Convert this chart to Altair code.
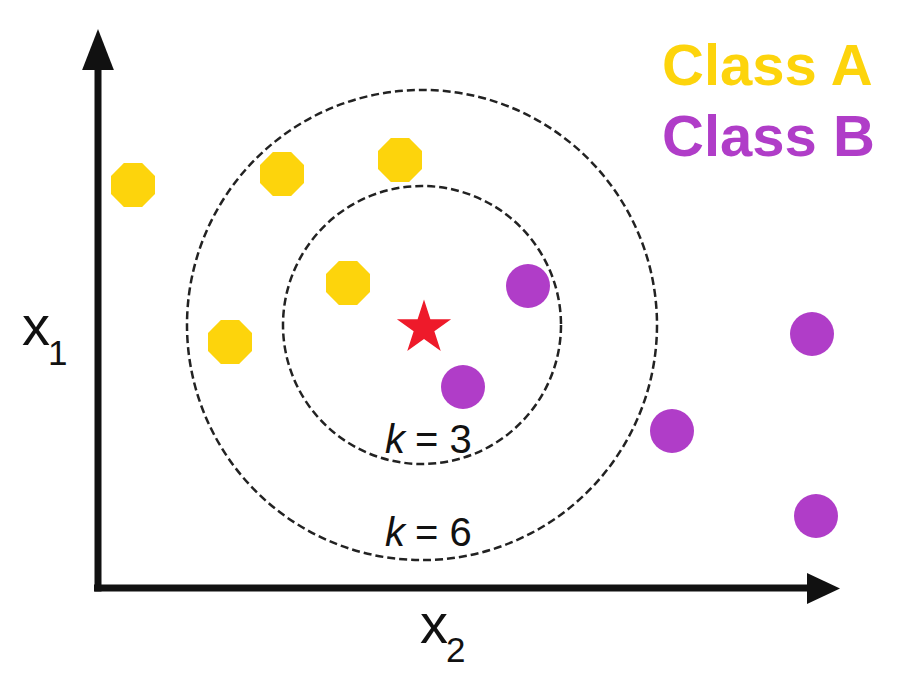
import math
import altair as alt
import pandas as pd

# ---- data: positions (x to the right, y downward) ----
class_a_x = [133, 282, 400, 348, 230]
class_a_y = [185, 174, 160, 283, 342]
class_b_x = [528, 463, 672, 812, 816]
class_b_y = [286, 387, 431, 334, 516]
query_x = [424]
query_y = [328]
center_x = [422]
center_y = [325]
k_values = ["3", "6"]
k_label_x = [385, 385]
k_label_y = [453, 546]
legend_labels = ["Class A", "Class B"]
legend_y = [85, 156]

YELLOW = "#FDD40C"
PURPLE = "#B03DC8"
RED = "#EE1A2A"
INK = "#111111"

X_DOM = [8, 890]
Y_DOM = [8, 682]


def X(field="x"):
    return alt.X(f"{field}:Q", scale=alt.Scale(domain=X_DOM, nice=False, zero=False), axis=None)


def Y(field="y"):
    return alt.Y(f"{field}:Q", scale=alt.Scale(domain=Y_DOM, nice=False, zero=False, reverse=True), axis=None)


OCTAGON = "M-0.414,-1L0.414,-1L1,-0.414L1,0.414L0.414,1L-0.414,1L-1,0.414L-1,-0.414Z"
pts = []
for i in range(10):
    r = 1.0 if i % 2 == 0 else 0.382
    a = math.radians(-90 + 36 * i)
    pts.append(f"{r*math.cos(a):.4f},{r*math.sin(a):.4f}")
STAR = "M" + "L".join(pts) + "Z"
ARROW_UP = "M0,-1L0.775,1L-0.775,1Z"
ARROW_RIGHT = "M1,0L-1,-0.94L-1,0.94Z"

df_a = pd.DataFrame({"x": class_a_x, "y": class_a_y})
df_b = pd.DataFrame({"x": class_b_x, "y": class_b_y})
df_q = pd.DataFrame({"x": query_x, "y": query_y})
df_c = pd.DataFrame({"x": center_x, "y": center_y})

# axes (arrows)
df_vaxis = pd.DataFrame({"x": [98], "y": [591.5], "y2": [60]})
df_haxis = pd.DataFrame({"x": [94], "x2": [812], "y": [588]})
df_up = pd.DataFrame({"x": [98], "y": [49.5]})
df_right = pd.DataFrame({"x": [823.5], "y": [588.5]})

vaxis = alt.Chart(df_vaxis).mark_rule(strokeWidth=7, color=INK).encode(
    x=X(), y=Y(), y2="y2:Q")
haxis = alt.Chart(df_haxis).mark_rule(strokeWidth=7, color=INK).encode(
    x=X(), x2="x2:Q", y=Y())
up = alt.Chart(df_up).mark_point(shape=ARROW_UP, size=1681, filled=True, color=INK,
                                 opacity=1, strokeWidth=0).encode(x=X(), y=Y())
right = alt.Chart(df_right).mark_point(shape=ARROW_RIGHT, size=1089, filled=True, color=INK,
                                       opacity=1, strokeWidth=0).encode(x=X(), y=Y())

# dashed neighbourhood circles
inner = alt.Chart(df_c).mark_point(shape="circle", filled=False, size=278 ** 2, color="#222222",
                                   strokeWidth=2.5, strokeDash=[8, 4], opacity=1).encode(x=X(), y=Y())
outer = alt.Chart(df_c).mark_point(shape="circle", filled=False, size=470 ** 2, color="#222222",
                                   strokeWidth=2.5, strokeDash=[8, 4], opacity=1).encode(x=X(), y=Y())

pa = alt.Chart(df_a).mark_point(shape=OCTAGON, size=44 ** 2, filled=True, color=YELLOW,
                                opacity=1, strokeWidth=0).encode(x=X(), y=Y())
pb = alt.Chart(df_b).mark_point(shape="circle", size=44 ** 2, filled=True, color=PURPLE,
                                opacity=1, strokeWidth=0).encode(x=X(), y=Y())
star = alt.Chart(df_q).mark_point(shape=STAR, size=57 ** 2, filled=True, color=RED,
                                  opacity=1, strokeWidth=0).encode(x=X(), y=Y())

# k labels
df_k = pd.DataFrame({"x": k_label_x, "y": k_label_y, "k": ["k"] * 2,
                     "rest": ["= " + v for v in k_values]})
k_it = alt.Chart(df_k).mark_text(font="Liberation Sans", fontSize=40, fontStyle="italic",
                                 align="left", baseline="alphabetic", color=INK).encode(
    x=X(), y=Y(), text="k:N")
k_rest = alt.Chart(df_k).mark_text(font="Liberation Sans", fontSize=40, align="left",
                                   baseline="alphabetic", color=INK, dx=30).encode(
    x=X(), y=Y(), text="rest:N")

# axis labels
df_x1 = pd.DataFrame({"x": [22], "y": [345], "t": ["x"]})
df_x1s = pd.DataFrame({"x": [48], "y": [365], "t": ["1"]})
df_x2 = pd.DataFrame({"x": [420], "y": [643], "t": ["x"]})
df_x2s = pd.DataFrame({"x": [446], "y": [662], "t": ["2"]})


def label(df, size):
    return alt.Chart(df).mark_text(font="Liberation Sans", fontSize=size, align="left",
                                   baseline="alphabetic", color=INK).encode(
        x=X(), y=Y(), text="t:N")


lab = label(df_x1, 56) + label(df_x1s, 35) + label(df_x2, 56) + label(df_x2s, 35)

# legend text
df_leg = pd.DataFrame({"x": [662, 662], "y": legend_y, "t": legend_labels})
legend = alt.Chart(df_leg).mark_text(font="Liberation Sans", fontSize=58, fontWeight="bold",
                                     align="left", baseline="alphabetic").encode(
    x=X(), y=Y(), text="t:N",
    color=alt.Color("t:N", scale=alt.Scale(domain=legend_labels, range=[YELLOW, PURPLE]), legend=None))

chart = alt.layer(
    outer, inner, vaxis, haxis, up, right, pa, pb, star, k_it, k_rest, lab, legend
).properties(
    width=882, height=674,
    autosize=alt.AutoSizeParams(type="none"),
    padding=0, background="white"
).configure_view(stroke=None)

chart.save("out.html", embed_options={"renderer": "svg", "actions": False})
